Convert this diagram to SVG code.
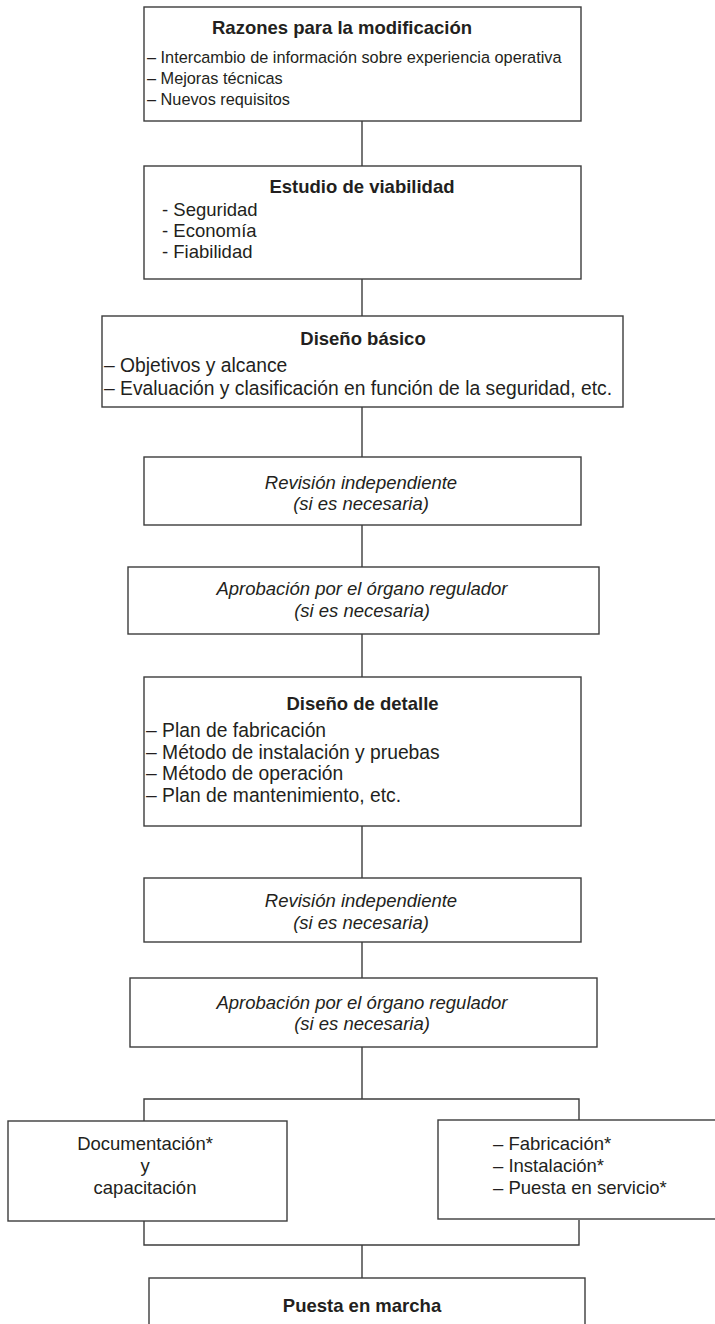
<svg xmlns="http://www.w3.org/2000/svg" width="715" height="1324" viewBox="0 0 715 1324">
<style>
.bx{fill:#fff;stroke:#3c3c3c;stroke-width:1.4}
.ln{fill:none;stroke:#3c3c3c;stroke-width:1.4}
text{font-family:"Liberation Sans",Arial,Helvetica,sans-serif;fill:#231f20}
.t{font-weight:bold;font-size:18.5px}
.c{text-anchor:middle}
.i{font-style:italic;font-size:18.5px}
.s16{font-size:16.3px}
.s18{font-size:18.5px}
.s19{font-size:19.3px}
</style>
<rect width="715" height="1324" fill="#fff"/>
<g id="connectors">
<line class="ln" x1="362" y1="121" x2="362" y2="166"/>
<line class="ln" x1="362" y1="279" x2="362" y2="316"/>
<line class="ln" x1="362" y1="407" x2="362" y2="457"/>
<line class="ln" x1="362" y1="525" x2="362" y2="567"/>
<line class="ln" x1="362" y1="634" x2="362" y2="677"/>
<line class="ln" x1="362" y1="826" x2="362" y2="878"/>
<line class="ln" x1="362" y1="942" x2="362" y2="978"/>
<line class="ln" x1="362" y1="1047" x2="362" y2="1099"/>
<polyline class="ln" points="144,1121 144,1099 579,1099 579,1121"/>
<polyline class="ln" points="144,1220 144,1245 579,1245 579,1220"/>
<line class="ln" x1="362" y1="1245" x2="362" y2="1278"/>
</g>
<g id="razones">
<rect class="bx" x="144" y="7" width="437" height="114"/>
<text class="t" x="212" y="34">Razones para la modificación</text>
<text class="s16" x="147" y="63">– Intercambio de información sobre experiencia operativa</text>
<text class="s16" x="147" y="84">– Mejoras técnicas</text>
<text class="s16" x="147" y="105">– Nuevos requisitos</text>
</g>
<g id="viabilidad">
<rect class="bx" x="144" y="166" width="437" height="113"/>
<text class="t c" x="362" y="193">Estudio de viabilidad</text>
<text class="s18" x="162" y="216">- Seguridad</text>
<text class="s18" x="162" y="237">- Economía</text>
<text class="s18" x="162" y="258">- Fiabilidad</text>
</g>
<g id="basico">
<rect class="bx" x="102" y="316" width="521" height="91"/>
<text class="t c" x="363" y="345">Diseño básico</text>
<text class="s19" x="104" y="372">– Objetivos y alcance</text>
<text class="s19" x="104" y="395">– Evaluación y clasificación en función de la seguridad, etc.</text>
</g>
<g id="revision1">
<rect class="bx" x="144" y="457" width="437" height="68"/>
<text class="i c" x="361" y="489">Revisión independiente</text>
<text class="i c" x="361" y="510">(si es necesaria)</text>
</g>
<g id="aprobacion1">
<rect class="bx" x="128" y="567" width="471" height="67"/>
<text class="i c" x="362" y="595">Aprobación por el órgano regulador</text>
<text class="i c" x="362" y="617">(si es necesaria)</text>
</g>
<g id="detalle">
<rect class="bx" x="144" y="677" width="437" height="149"/>
<text class="t c" x="362.5" y="710">Diseño de detalle</text>
<text class="s19" x="146" y="737">– Plan de fabricación</text>
<text class="s19" x="146" y="759">– Método de instalación y pruebas</text>
<text class="s19" x="146" y="780">– Método de operación</text>
<text class="s19" x="146" y="802">– Plan de mantenimiento, etc.</text>
</g>
<g id="revision2">
<rect class="bx" x="144" y="878" width="437" height="64"/>
<text class="i c" x="361" y="907">Revisión independiente</text>
<text class="i c" x="361" y="929">(si es necesaria)</text>
</g>
<g id="aprobacion2">
<rect class="bx" x="130" y="978" width="467" height="69"/>
<text class="i c" x="362" y="1009">Aprobación por el órgano regulador</text>
<text class="i c" x="362" y="1030">(si es necesaria)</text>
</g>
<g id="documentacion">
<rect class="bx" x="8" y="1121" width="279" height="100"/>
<text class="s18 c" x="145" y="1150">Documentación*</text>
<text class="s18 c" x="145" y="1172">y</text>
<text class="s18 c" x="145" y="1194">capacitación</text>
</g>
<g id="fabricacion">
<rect class="bx" x="438" y="1120" width="290" height="99"/>
<text class="s18" x="493" y="1150">– Fabricación*</text>
<text class="s18" x="493" y="1172">– Instalación*</text>
<text class="s18" x="493" y="1194">– Puesta en servicio*</text>
</g>
<g id="marcha">
<rect class="bx" x="149" y="1278" width="436" height="60"/>
<text class="t c" x="362" y="1312">Puesta en marcha</text>
</g>
</svg>
